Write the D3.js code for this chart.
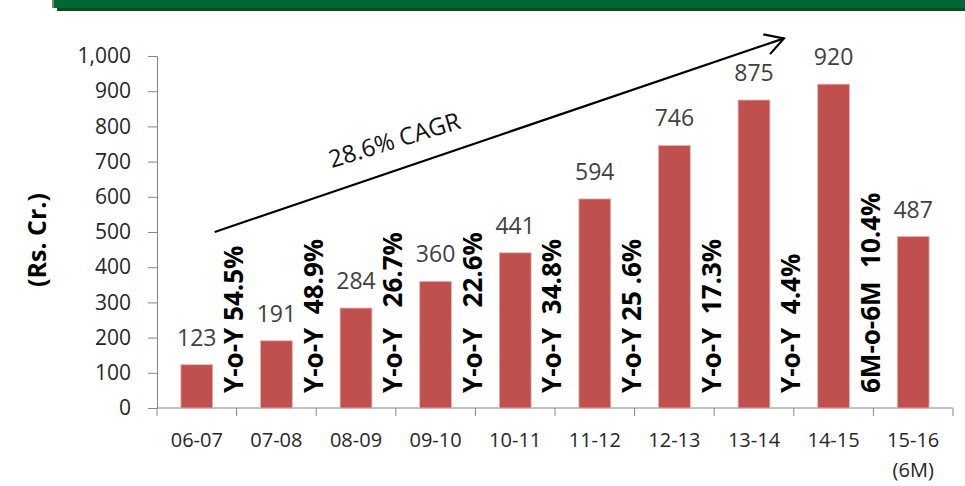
<!DOCTYPE html>
<html>
<head>
<meta charset="utf-8">
<script src="https://cdn.jsdelivr.net/npm/d3@7"></script>
<style>
  body { margin: 0; background: #fff; }
  svg { display: block; }
</style>
</head>
<body>
<div id="chart"></div>
<script>
// chart data
const categories = ["06-07", "07-08", "08-09", "09-10", "10-11", "11-12", "12-13", "13-14", "14-15", "15-16 (6M)"];
const values = [123, 191, 284, 360, 441, 594, 746, 875, 920, 487];
const growthLabels = [
  "Y-o-Y 54.5%", "Y-o-Y  48.9%", "Y-o-Y   26.7%", "Y-o-Y   22.6%", "Y-o-Y  34.8%",
  "Y-o-Y 25 .6%", "Y-o-Y  17.3%", "Y-o-Y  4.4%", "6M-o-6M  10.4%"
];
const yTicks = [0, 100, 200, 300, 400, 500, 600, 700, 800, 900, 1000];
const cagrLabel = "28.6% CAGR";
const yTitle = "(Rs. Cr.)";

const width = 965, height = 486;
const margin = { left: 157, right: 12, top: 56, bottom: 78 };

const svg = d3.select('#chart').append('svg')
  .attr('width', width)
  .attr('height', height);

// green header strip
svg.append('rect')
  .attr('x', 57).attr('y', 0)
  .attr('width', width - 57).attr('height', 11)
  .attr('fill', '#0b4a24');
svg.append('rect')
  .attr('x', 52).attr('y', 0)
  .attr('width', width - 52).attr('height', 8)
  .attr('fill', '#006633');
svg.append('rect')
  .attr('x', 52).attr('y', 0)
  .attr('width', 2).attr('height', 8)
  .attr('fill', '#5f9c73');

const x = d3.scaleBand()
  .domain(categories)
  .range([margin.left, width - margin.right])
  .paddingInner(0.6)
  .paddingOuter(0.3);

const y = d3.scaleLinear()
  .domain([0, 1000])
  .range([height - margin.bottom, margin.top]);

const axisColor = '#868686';

// y axis
const yAxis = svg.append('g')
  .attr('transform', `translate(${margin.left},0)`)
  .call(d3.axisLeft(y).tickValues(yTicks).tickSize(9).tickPadding(17).tickFormat(d3.format(',')));
yAxis.selectAll('line, path').attr('stroke', axisColor);
yAxis.selectAll('text')
  .attr('font-family', '"Open Sans", sans-serif')
  .attr('font-size', '21px')
  .attr('fill', '#262626');

// x axis line + ticks on category boundaries
const x0 = x.range()[0], x1 = x.range()[1];
svg.append('line')
  .attr('x1', x0).attr('x2', x1)
  .attr('y1', y(0)).attr('y2', y(0))
  .attr('stroke', axisColor);
svg.selectAll('.xtick')
  .data(d3.range(categories.length + 1))
  .enter().append('line')
  .attr('class', 'xtick')
  .attr('x1', i => x0 + i * x.step())
  .attr('x2', i => x0 + i * x.step())
  .attr('y1', y(0)).attr('y2', y(0) + 8)
  .attr('stroke', axisColor);

// category labels
const xl = svg.selectAll('.xlabel')
  .data(categories)
  .enter().append('text')
  .attr('class', 'xlabel')
  .attr('text-anchor', 'middle')
  .attr('font-family', '"Open Sans", sans-serif')
  .attr('font-size', '20px')
  .attr('fill', '#262626');
xl.selectAll('tspan')
  .data(d => d.split(' ').map(t => ({ t, c: d })))
  .enter().append('tspan')
  .attr('x', d => x(d.c) + x.bandwidth() / 2)
  .attr('y', (d, i) => y(0) + 39 + i * 30)
  .text(d => d.t);

// bars
svg.selectAll('.bar')
  .data(values)
  .enter().append('rect')
  .attr('class', 'bar')
  .attr('x', (d, i) => x(categories[i]))
  .attr('y', d => y(d))
  .attr('width', x.bandwidth())
  .attr('height', d => y(0) - y(d))
  .attr('fill', '#C0504D')
  .attr('stroke', '#E6B9B8')
  .attr('stroke-width', 0.8);

// value labels
svg.selectAll('.val')
  .data(values)
  .enter().append('text')
  .attr('class', 'val')
  .attr('x', (d, i) => x(categories[i]) + x.bandwidth() / 2)
  .attr('y', d => y(d) - 19)
  .attr('text-anchor', 'middle')
  .attr('font-family', '"Open Sans", sans-serif')
  .attr('font-size', '23px')
  .attr('fill', '#404040')
  .text(d => d);

// growth labels, vertical, on the boundary between two years
svg.selectAll('.growth')
  .data(growthLabels)
  .enter().append('text')
  .attr('class', 'growth')
  .attr('transform', (d, i) => {
    const bx = x(categories[i]) + x.bandwidth() / 2 + x.step() / 2 - 3;
    return `translate(${bx},${y(0) - 15}) rotate(-90)`;
  })
  .attr('dy', '0.36em')
  .attr('font-family', '"Open Sans", sans-serif')
  .attr('font-weight', 'bold')
  .attr('font-size', '26px')
  .attr('fill', '#000')
  .style('white-space', 'pre')
  .text(d => d);

// CAGR arrow
const ax0 = x(categories[0]) + x.bandwidth() + 2, ay0 = y(500);
const ax1 = x(categories[7]) + x.bandwidth() + 14, ay1 = y(1050);
svg.append('line')
  .attr('x1', ax0).attr('y1', ay0)
  .attr('x2', ax1).attr('y2', ay1)
  .attr('stroke', '#000')
  .attr('stroke-width', 2.2);
const ang = Math.atan2(ay1 - ay0, ax1 - ax0);
const head = [ang + Math.PI - 0.52, ang + Math.PI + 0.52].map(a => [ax1 + 21 * Math.cos(a), ay1 + 21 * Math.sin(a)]);
svg.append('path')
  .attr('d', d3.line()([head[0], [ax1, ay1], head[1]]))
  .attr('fill', 'none')
  .attr('stroke', '#000')
  .attr('stroke-width', 2.2);

svg.append('text')
  .attr('transform', `translate(${ax0 + (ax1 - ax0) * 0.32},${ay0 + (ay1 - ay0) * 0.32 - 22}) rotate(-17)`)
  .attr('text-anchor', 'middle')
  .attr('font-family', '"Open Sans", sans-serif')
  .attr('font-size', '24px')
  .attr('fill', '#111')
  .text(cagrLabel);

// y axis title
svg.append('text')
  .attr('transform', `translate(37,${(y(0) + y(1000)) / 2 + 8}) rotate(-90)`)
  .attr('text-anchor', 'middle')
  .attr('dy', '0.36em')
  .attr('font-family', '"Open Sans", sans-serif')
  .attr('font-weight', 'bold')
  .attr('font-size', '25px')
  .attr('fill', '#000')
  .text(yTitle);
</script>
</body>
</html>
